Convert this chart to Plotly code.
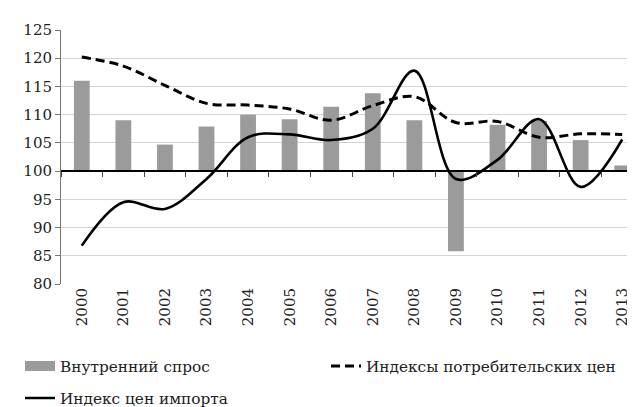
import plotly.graph_objects as go

years = [str(y) for y in range(2000, 2014)]
demand = [116.0, 109.0, 104.7, 107.9, 110.0, 109.2, 111.4, 113.8, 109.0, 85.8, 108.2, 108.9, 105.5, 101.0]
cpi = [120.2, 118.6, 115.2, 112.0, 111.7, 111.0, 109.0, 111.6, 113.2, 108.6, 108.8, 106.0, 106.6, 106.5]
imports = [86.8, 94.5, 93.3, 98.6, 106.0, 106.5, 105.5, 107.5, 117.8, 98.6, 102.0, 109.2, 97.2, 105.6]
base_level = 100
yticks = list(range(80, 126, 5))

FONT = "DejaVu Serif"
BAR_COLOR = "#9b9b9b"

fig = go.Figure()
fig.add_trace(go.Bar(
    x=years, y=[v - base_level for v in demand], base=base_level,
    name="Внутренний спрос", marker=dict(color=BAR_COLOR, line=dict(width=0)),
    width=0.38, showlegend=False, legendgroup="demand",
))
fig.add_trace(go.Scatter(
    x=years, y=cpi, mode="lines", name="Индексы потребительских цен",
    line=dict(color="black", width=3, dash="9px,5px", shape="spline", smoothing=1.0),
    legend="legend2",
))
fig.add_trace(go.Scatter(
    x=years, y=imports, mode="lines", name="Индекс цен импорта",
    line=dict(color="black", width=2.6, shape="spline", smoothing=1.0),
    legend="legend3",
))
# legend entry for the bars (wide rectangle swatch as in the reference)
fig.add_trace(go.Scatter(
    x=[None], y=[None], mode="lines", name="Внутренний спрос",
    line=dict(color=BAR_COLOR, width=10), legend="legend", legendgroup="demand",
    hoverinfo="skip",
))
fig.add_trace(go.Scatter(
    x=years, y=demand, mode="none", xaxis="x2", showlegend=False, hoverinfo="skip",
))

legend_common = dict(xref="container", yref="container", yanchor="middle", xanchor="left",
                     font=dict(family=FONT, size=15.3, color="#222"), bgcolor="rgba(0,0,0,0)")

fig.update_layout(
    width=635, height=407,
    margin=dict(l=53, r=0, t=22, b=131, autoexpand=False),
    paper_bgcolor="white", plot_bgcolor="white",
    font=dict(family=FONT, size=15, color="#222"),
    bargap=0.6,
    xaxis=dict(type="category", categoryarray=years, range=[-0.5, 13.5],
               showline=False, ticks="", tickangle=-90, showgrid=False, automargin=False,
               tickfont=dict(family=FONT, size=15)),
    xaxis2=dict(type="category", categoryarray=years, range=[-0.5, 13.5], overlaying="x",
                anchor="free", position=(base_level - 80) / 45, showline=True, linecolor="black",
                linewidth=1.5, ticks="outside", tickson="boundaries", ticklen=5, tickwidth=1.2,
                tickcolor="#444", showticklabels=False, showgrid=False),
    yaxis=dict(range=[80, 125], tickvals=yticks, showgrid=True, gridcolor="#d4d4d4", gridwidth=1,
               showline=True, linecolor="#777", linewidth=1, ticks="outside", ticklen=5,
               automargin=False, tickcolor="#777", zeroline=False, tickfont=dict(family=FONT, size=15)),
    legend=dict(x=12 / 635, y=1 - 358 / 407, **legend_common),
    legend2=dict(x=318 / 635, y=1 - 358 / 407, **legend_common),
    legend3=dict(x=12 / 635, y=1 - 390 / 407, **legend_common),
)

fig.write_html("out.html")
